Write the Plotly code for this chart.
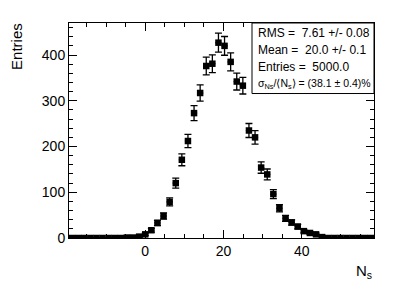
import numpy as np
import plotly.graph_objects as go

# Histogram: 50 bins from -19.5 to 58.5
x_min, x_max, n_bins = -19.5, 58.5, 50
counts = [0, 0, 0, 0, 0, 0, 0, 0, 0, 1, 1, 3,
          8, 17, 33, 48, 79, 120, 171, 212, 273, 317,
          376, 381, 427, 420, 385, 342, 333, 235, 220, 154,
          139, 96, 65, 43, 34, 25, 15, 11, 8, 2,
          0, 0, 0, 0, 0, 0, 0, 0]
stat_lines = ["RMS =  7.61 +/- 0.08",
              "Mean =  20.0 +/- 0.1",
              "Entries =  5000.0",
              "σ<sub>Ns</sub>/⟨N<sub>s</sub>⟩ = (38.1 ± 0.4)%"]
x_title = "N<sub>s</sub>"
y_title = "Entries"

width = (x_max - x_min) / n_bins
centers = x_min + width * (np.arange(n_bins) + 0.5)
y = np.array(counts, dtype=float)
err = np.sqrt(y)

fig = go.Figure()
fig.add_trace(go.Scatter(
    x=centers, y=y, mode="markers",
    marker=dict(symbol="square", size=6.5, color="black"),
    error_y=dict(type="data", array=err, color="black", thickness=1.3, width=3.5),
    error_x=dict(type="data", array=[width / 2] * n_bins, color="black", thickness=1.3, width=0),
    showlegend=False,
))

font = "Liberation Sans, Arial, Helvetica, sans-serif"
axis_common = dict(showline=True, linecolor="black", linewidth=1, mirror="ticks",
                   ticks="inside", ticklen=8, tickcolor="black", tickwidth=1,
                   showgrid=False, zeroline=False,
                   tickfont=dict(family=font, size=14, color="black"))
fig.update_xaxes(range=[x_min, x_max], dtick=20, tick0=0,
                 minor=dict(dtick=5, ticks="inside", ticklen=4, tickcolor="black"),
                 **axis_common)
fig.update_yaxes(range=[0, 470], dtick=100, tick0=0,
                 minor=dict(dtick=20, ticks="inside", ticklen=4, tickcolor="black"),
                 **axis_common)

# Stat box
fig.add_shape(type="rect", xref="paper", yref="paper", x0=0.6, x1=1.0, y0=0.672, y1=1.0,
              line=dict(color="black", width=1), fillcolor="white", layer="above")
ys = [0.955, 0.875, 0.795, 0.715]
sizes = [12, 12, 12, 10.5]
for t, yy, s in zip(stat_lines, ys, sizes):
    fig.add_annotation(xref="paper", yref="paper", x=0.613, y=yy, text=t, showarrow=False,
                       xanchor="left", yanchor="middle",
                       font=dict(family=font, size=s, color="black"))

fig.add_annotation(xref="paper", yref="paper", x=-0.172, y=1.01, text=y_title, textangle=-90,
                   showarrow=False, xanchor="center", yanchor="top",
                   font=dict(family=font, size=15, color="black"))
fig.add_annotation(xref="paper", yref="paper", x=1.0, y=-0.155, text=x_title,
                   showarrow=False, xanchor="right", yanchor="middle",
                   font=dict(family=font, size=15, color="black"))

fig.update_layout(width=407, height=292, margin=dict(l=61, r=41, t=15, b=62),
                  paper_bgcolor="white", plot_bgcolor="white")
fig.write_html("out.html")
